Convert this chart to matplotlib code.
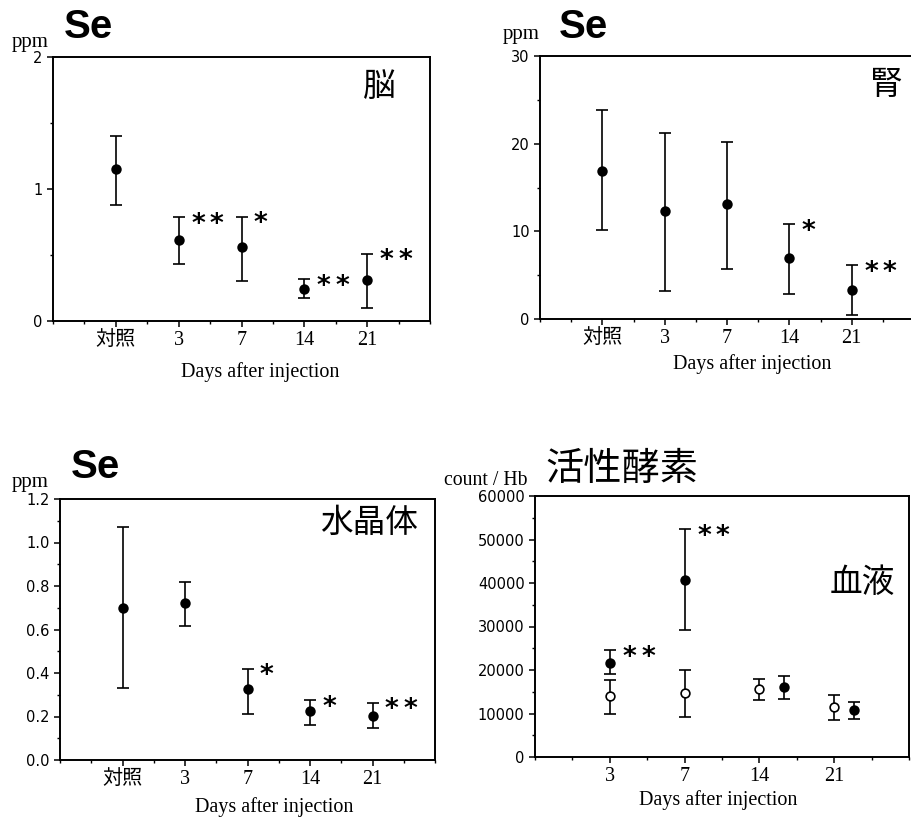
import matplotlib.pyplot as plt
from matplotlib.ticker import MultipleLocator, FormatStrFormatter

W, H = 911, 818

days = ['対照', '3', '7', '14', '21']

# Se in brain (ppm)
brain_mean = [1.15, 0.61, 0.56, 0.245, 0.31]
brain_hi = [1.40, 0.785, 0.79, 0.315, 0.51]
brain_lo = [0.88, 0.43, 0.305, 0.175, 0.10]
brain_sig = ['', '**', '*', '**', '**']

# Se in kidney (ppm)
kidney_mean = [16.9, 12.35, 13.1, 7.0, 3.3]
kidney_hi = [23.8, 21.2, 20.2, 10.8, 6.15]
kidney_lo = [10.2, 3.2, 5.7, 2.85, 0.4]
kidney_sig = ['', '', '', '*', '**']

# Se in lens (ppm)
lens_mean = [0.70, 0.72, 0.325, 0.225, 0.204]
lens_hi = [1.073, 0.817, 0.42, 0.276, 0.263]
lens_lo = [0.332, 0.616, 0.211, 0.161, 0.146]
lens_sig = ['', '', '*', '*', '**']

# active oxygen in blood (count / Hb)
blood_days = ['3', '7', '14', '21']
fill_mean = [21600, 40700, 16200, 10700]
fill_hi = [24600, 52300, 18700, 12550]
fill_lo = [19100, 29100, 13300, 8800]
fill_sig = ['**', '**', '', '']
open_mean = [14100, 14700, 15600, 11500]
open_hi = [17750, 19900, 17900, 14200]
open_lo = [9800, 9300, 13150, 8400]

SERIF = ['Liberation Serif', 'Noto Sans CJK JP']
SANS = ['DejaVu Sans']
JP = ['Noto Sans CJK JP']

fig = plt.figure(figsize=(W / 100, H / 100), dpi=100)
fig.patch.set_facecolor('white')


def px(x, y):
    return x / W, 1 - y / H


def make_axes(left, top, right, bottom, ymax, ymaj, ymin, fmt, xmax, labels):
    ax = fig.add_axes([left / W, 1 - bottom / H, (right - left) / W, (bottom - top) / H])
    ax.set_xlim(0, xmax)
    ax.set_ylim(0, ymax)
    ax.set_xticks(range(1, len(labels) + 1))
    ax.set_xticklabels(labels, family=SERIF, fontsize=14.5)
    ax.xaxis.set_minor_locator(MultipleLocator(0.5))
    ax.yaxis.set_major_locator(MultipleLocator(ymaj))
    ax.yaxis.set_minor_locator(MultipleLocator(ymin))
    ax.yaxis.set_major_formatter(FormatStrFormatter(fmt))
    for lab in ax.get_yticklabels():
        lab.set_family(SANS)
        lab.set_fontsize(10.5)
    ax.tick_params(which='major', direction='out', length=4.5, width=1.1, pad=3)
    ax.tick_params(which='minor', direction='out', length=2.5, width=1.0)
    ax.tick_params(axis='x', which='major', pad=3)
    for s in ax.spines.values():
        s.set_linewidth(1.4)
    return ax


def draw(ax, x, mean, lo, hi, sig, face='black'):
    err = [[m - l for m, l in zip(mean, lo)], [h - m for m, h in zip(mean, hi)]]
    ax.errorbar(x, mean, yerr=err, fmt='o', color='black', mfc=face, mec='black',
                ms=6.3, mew=1.2, capsize=4.5, elinewidth=1.2, capthick=1.2)
    for xi, h, s in zip(x, hi, sig):
        # each star placed on its own, spaced like the print
        for i, ch in enumerate(s):
            ax.annotate(ch, (xi, h), xytext=(9 + i * 13.5, -10.5), textcoords='offset points',
                        ha='left', va='baseline', fontsize=19, weight='bold', family=SANS)


def heading(x, y, text):
    fig.text(*px(x, y), text, family=['Liberation Sans'], weight='bold', fontsize=29,
             ha='left', va='center')


def unit(x, y, text):
    fig.text(*px(x, y), text, family=SERIF, fontsize=15, ha='center', va='center')


def xlab(x, y):
    fig.text(*px(x, y), 'Days after injection', family=SERIF, fontsize=14.5,
             ha='center', va='center')


def organ(x, y, text, size=23.5):
    fig.text(*px(x, y), text, family=JP, fontsize=size, ha='center', va='center')


# top-left: brain
ax1 = make_axes(53, 57, 430, 321, 2, 1, 0.5, '%d', 6, days)
draw(ax1, range(1, 6), brain_mean, brain_lo, brain_hi, brain_sig)
unit(30, 42, 'ppm')
heading(64, 27, 'Se')
organ(379, 87, '脳')
xlab(260, 372)

# top-right: kidney
ax2 = make_axes(540, 56, 914, 319, 30, 10, 5, '%d', 6, days)
draw(ax2, range(1, 6), kidney_mean, kidney_lo, kidney_hi, kidney_sig)
unit(521, 34, 'ppm')
heading(559, 27, 'Se')
organ(886, 85, '腎')
xlab(752, 364)

# bottom-left: lens
ax3 = make_axes(60, 499, 435, 760, 1.2, 0.2, 0.1, '%.1f', 6, days)
draw(ax3, range(1, 6), lens_mean, lens_lo, lens_hi, lens_sig)
unit(30, 482, 'ppm')
heading(71, 467, 'Se')
organ(369, 523, '水晶体')
xlab(274, 807)

# bottom-right: blood
ax4 = make_axes(535, 496, 909, 757, 60000, 10000, 5000, '%d', 5, blood_days)
shift = [0, 0, 0.33, 0.27]
xs = range(1, 5)
draw(ax4, xs, open_mean, open_lo, open_hi, [''] * 4, face='white')
draw(ax4, [x + s for x, s in zip(xs, shift)], fill_mean, fill_lo, fill_hi, fill_sig)
fig.text(*px(486, 481), 'count / Hb', family=SERIF, fontsize=14.2, ha='center', va='center')
fig.text(*px(622, 469), '活性酵素', family=JP, fontsize=27.5, ha='center', va='center')
organ(862, 583, '血液')
xlab(718, 800)

fig.savefig('out.png', dpi=100)
